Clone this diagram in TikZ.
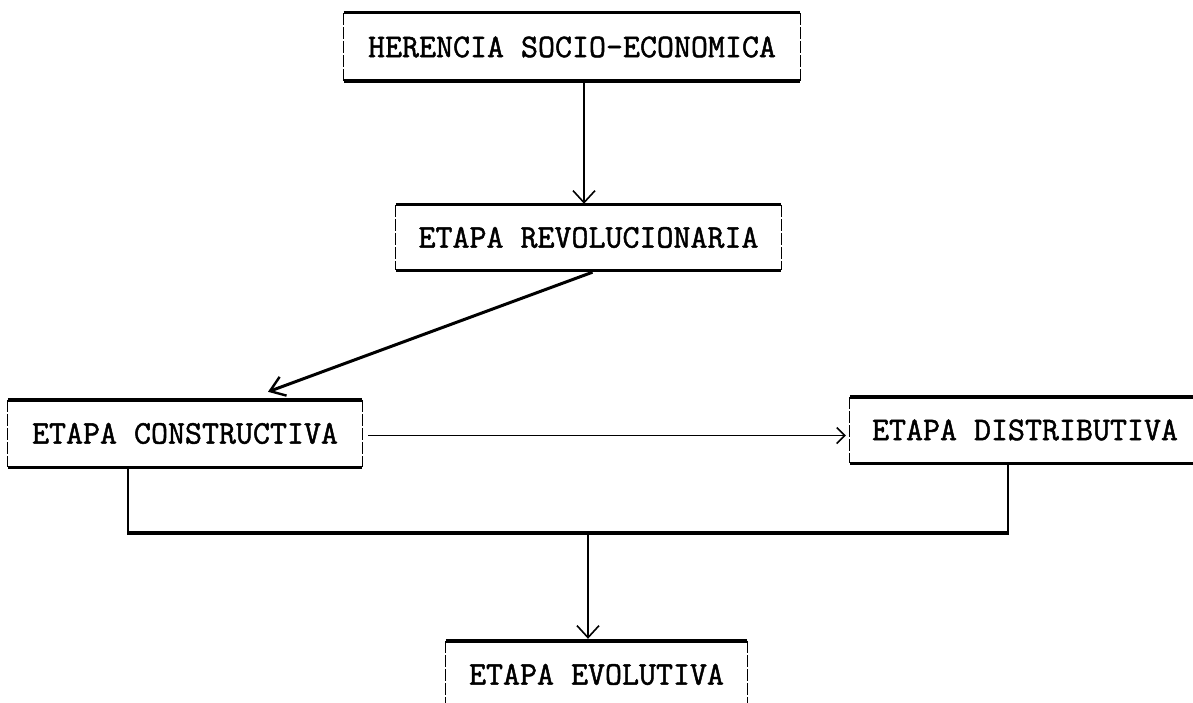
\documentclass[tikz,border=0pt]{standalone}
\usepackage{fontspec}
\newfontfamily\twfont[FakeBold=1.4]{Latin Modern Mono}
\usetikzlibrary{arrows.meta}
\begin{document}
\begin{tikzpicture}[x=1pt,y=-1pt,
  txt/.style={inner sep=0pt, font=\fontsize{33}{40}\selectfont\twfont, anchor=center},
  edgeline/.style={line width=3.4pt, line cap=butt},
  sideline/.style={line width=1.2pt, dash pattern=on 12pt off 2pt},
  thinconn/.style={line width=1.6pt},
  barb/.style={-{Straight Barb[length=12pt,width=22pt,line width=1.6pt]}}
]
\useasboundingbox (0,0) rectangle (1193,703);
\clip (0,0) rectangle (1193,703);
\newcommand\drawframe[1]{%
  \draw[edgeline] (#1.north west) -- (#1.north east);
  \draw[edgeline] (#1.south west) -- (#1.south east);
  \draw[sideline] (#1.north west) -- (#1.south west);
  \draw[sideline] (#1.north east) -- (#1.south east);
}
% boxes
\node[txt, minimum width=456pt, minimum height=68pt] (b1) at (572,47) {HERENCIA SOCIO-ECONOMICA};
\node[txt, minimum width=385pt, minimum height=65pt] (b2) at (588.5,237.5) {ETAPA REVOLUCIONARIA};
\node[txt, minimum width=354pt, minimum height=67pt] (b3) at (185,433.5) {ETAPA CONSTRUCTIVA};
\node[txt, minimum width=350pt, minimum height=66pt] (b4) at (1025,430) {ETAPA DISTRIBUTIVA};
\node[txt, minimum width=301pt, minimum height=67pt] (b5) at (596.5,674.5) {ETAPA EVOLUTIVA};
\drawframe{b1}
\drawframe{b2}
\drawframe{b3}
\drawframe{b4}
\drawframe{b5}
% connectors
\draw[thinconn, barb] ([xshift=-4.5pt]b2.north |- b1.south) -- ([xshift=-4.5pt,yshift=1pt]b2.north);
\draw[line width=3pt, -{Straight Barb[length=14pt,width=20pt,line width=2.4pt]}]
  ([xshift=4pt,yshift=-2pt]b2.south) -- ([xshift=83pt,yshift=8pt]b3.north);
\coordinate (hs) at ([xshift=6pt,yshift=-2pt]b3.east);
\draw[line width=1.8pt, -{Straight Barb[length=8pt,width=16pt,line width=1.5pt]}]
  (hs) -- ([xshift=-4pt]b4.west |- hs);
\coordinate (jl) at (128,533);
\coordinate (jr) at (1008,533);
\coordinate (jm) at (588,533);
\draw[thinconn] (jl |- b3.south) -- (jl);
\draw[thinconn] (jr |- b4.south) -- (jr);
\draw[edgeline] ([xshift=-0.8pt]jl) -- ([xshift=0.8pt]jr);
\draw[line width=1.8pt, barb] (jm) -- ([xshift=-8.5pt,yshift=2pt]b5.north);
\end{tikzpicture}
\end{document}
